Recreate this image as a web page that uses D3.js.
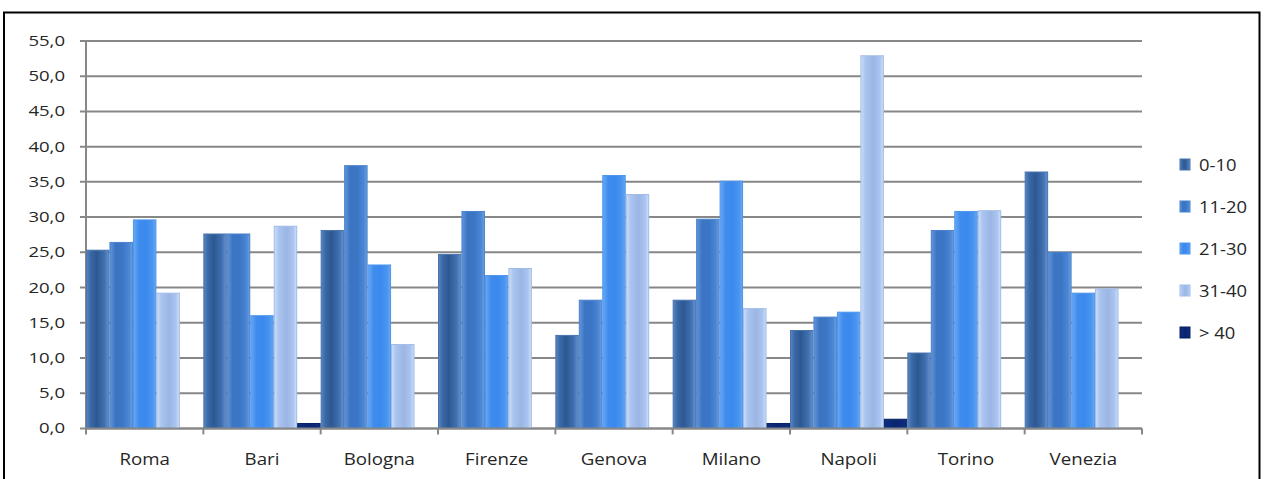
<!DOCTYPE html>
<html>
<head>
<meta charset="utf-8">
<script src="https://cdn.jsdelivr.net/npm/d3@7/dist/d3.min.js"></script>
<style>
  html, body { margin: 0; padding: 0; background: #fff; }
  svg { display: block; }
  text { font-family: "Open Sans", "Noto Sans", sans-serif; fill: #262626; }
</style>
</head>
<body>
<svg id="chart" width="1264" height="479"></svg>
<script>
// Cities (x categories)
const cities = ["Roma", "Bari", "Bologna", "Firenze", "Genova", "Milano", "Napoli", "Torino", "Venezia"];
// Age bands (series)
const bands = ["0-10", "11-20", "21-30", "31-40", "> 40"];
// Percent values per series, in city order
const s0_10  = [25.3, 27.6, 28.1, 24.7, 13.2, 18.2, 13.9, 10.7, 36.4];
const s11_20 = [26.4, 27.6, 37.3, 30.8, 18.2, 29.7, 15.8, 28.1, 25.0];
const s21_30 = [29.6, 16.0, 23.2, 21.7, 35.9, 35.1, 16.5, 30.8, 19.2];
const s31_40 = [19.2, 28.7, 11.9, 22.7, 33.2, 17.0, 52.9, 30.9, 19.8];
const sOver40 = [0.0, 0.7, 0.0, 0.0, 0.0, 0.7, 1.3, 0.0, 0.0];
// Y axis ticks
const yTicks = [0, 5, 10, 15, 20, 25, 30, 35, 40, 45, 50, 55];

const seriesValues = [s0_10, s11_20, s21_30, s31_40, sOver40];

const svg = d3.select("#chart");
const plotLeft = 86, plotRight = 1142, plotTop = 41, plotBottom = 428.4;

// Shaded fills for each series (horizontal bevel look)
const gradStops = [
  [["0%", "#5a86c2"], ["18%", "#3b69a7"], ["45%", "#2d5891"], ["80%", "#4070b0"], ["100%", "#6894cf"]],
  [["0%", "#6096dc"], ["25%", "#3c74c2"], ["55%", "#3b76c6"], ["85%", "#4a86d4"], ["100%", "#6da0e0"]],
  [["0%", "#68a9f6"], ["25%", "#3f8cec"], ["55%", "#3a89ee"], ["85%", "#4b95f0"], ["100%", "#6aa8f4"]],
  [["0%", "#cfe0f8"], ["20%", "#a9c4ee"], ["55%", "#9bb6e4"], ["85%", "#aac5f0"], ["100%", "#d2e2fa"]],
  [["0%", "#0c2d80"], ["50%", "#08256f"], ["100%", "#0c2d80"]]
];
const strokes = ["#4a74ad", "#4a82cc", "#4d95ec", "#9fbbe6", "#07215f"];

const defs = svg.append("defs");
gradStops.forEach((stops, i) => {
  const g = defs.append("linearGradient").attr("id", "g" + i)
    .attr("x1", "0").attr("x2", "1").attr("y1", "0").attr("y2", "0");
  stops.forEach(s => g.append("stop").attr("offset", s[0]).attr("stop-color", s[1]));
});

// Frame around the chart area
svg.append("rect")
  .attr("x", 4).attr("y", 12.5).attr("width", 1255.5).attr("height", 480)
  .attr("fill", "none").attr("stroke", "#000").attr("stroke-width", 2);

const x0 = d3.scaleBand().domain(cities).range([plotLeft, plotRight]).paddingInner(0).paddingOuter(0);
const x1 = d3.scaleBand().domain(d3.range(bands.length)).range([0, x0.bandwidth()]).padding(0);
const y = d3.scaleLinear().domain([0, 55]).range([plotBottom, plotTop]);

const fmt = v => d3.format(".1f")(v).replace(".", ",");

// Horizontal gridlines with small ticks left of the axis
svg.append("g").selectAll("line").data(yTicks).join("line")
  .attr("x1", plotLeft - 6).attr("x2", plotRight)
  .attr("y1", d => y(d)).attr("y2", d => y(d))
  .attr("stroke", "#878787").attr("stroke-width", 2);

// Y axis labels
svg.append("g").selectAll("text").data(yTicks).join("text")
  .attr("transform", d => `translate(65,${y(d) + 5}) scale(1.28,1)`)
  .attr("text-anchor", "end")
  .attr("font-size", 14.5)
  .text(fmt);

// Vertical axis line
svg.append("line").attr("x1", plotLeft).attr("x2", plotLeft).attr("y1", plotTop).attr("y2", plotBottom)
  .attr("stroke", "#878787").attr("stroke-width", 2);

// Bars
const groups = svg.append("g").selectAll("g").data(cities).join("g")
  .attr("transform", d => `translate(${x0(d)},0)`);
groups.selectAll("rect")
  .data((c, ci) => seriesValues.map((vals, si) => ({ si, v: vals[ci] })).filter(d => d.v > 0))
  .join("rect")
  .attr("x", d => x1(d.si) + 0.5)
  .attr("width", x1.bandwidth() - 1)
  .attr("y", d => y(d.v))
  .attr("height", d => y(0) - y(d.v))
  .attr("fill", d => `url(#g${d.si})`)
  .attr("stroke", d => strokes[d.si])
  .attr("stroke-width", 1);

// Category axis line and boundary ticks
svg.append("line").attr("x1", plotLeft).attr("x2", plotRight).attr("y1", plotBottom).attr("y2", plotBottom)
  .attr("stroke", "#878787").attr("stroke-width", 2);
const boundaries = cities.map(c => x0(c)).concat([plotRight]);
svg.append("g").selectAll("line").data(boundaries).join("line")
  .attr("x1", d => d).attr("x2", d => d).attr("y1", plotBottom).attr("y2", plotBottom + 6)
  .attr("stroke", "#878787").attr("stroke-width", 2);

// Category labels
svg.append("g").selectAll("text").data(cities).join("text")
  .attr("transform", d => `translate(${x0(d) + x0.bandwidth() / 2},465) scale(1.1,1)`)
  .attr("text-anchor", "middle")
  .attr("font-size", 17)
  .text(d => d);

// Legend
const legend = svg.append("g").selectAll("g").data(bands).join("g")
  .attr("transform", (d, i) => `translate(1180,${165 + i * 42})`);
legend.append("rect")
  .attr("x", 0).attr("y", -6).attr("width", 10).attr("height", 11)
  .attr("fill", (d, i) => `url(#g${i})`)
  .attr("stroke", (d, i) => strokes[i]).attr("stroke-width", 1);
legend.append("text")
  .attr("transform", `translate(19,6) scale(1.15,1)`)
  .attr("font-size", 16)
  .text(d => d);
</script>
</body>
</html>
